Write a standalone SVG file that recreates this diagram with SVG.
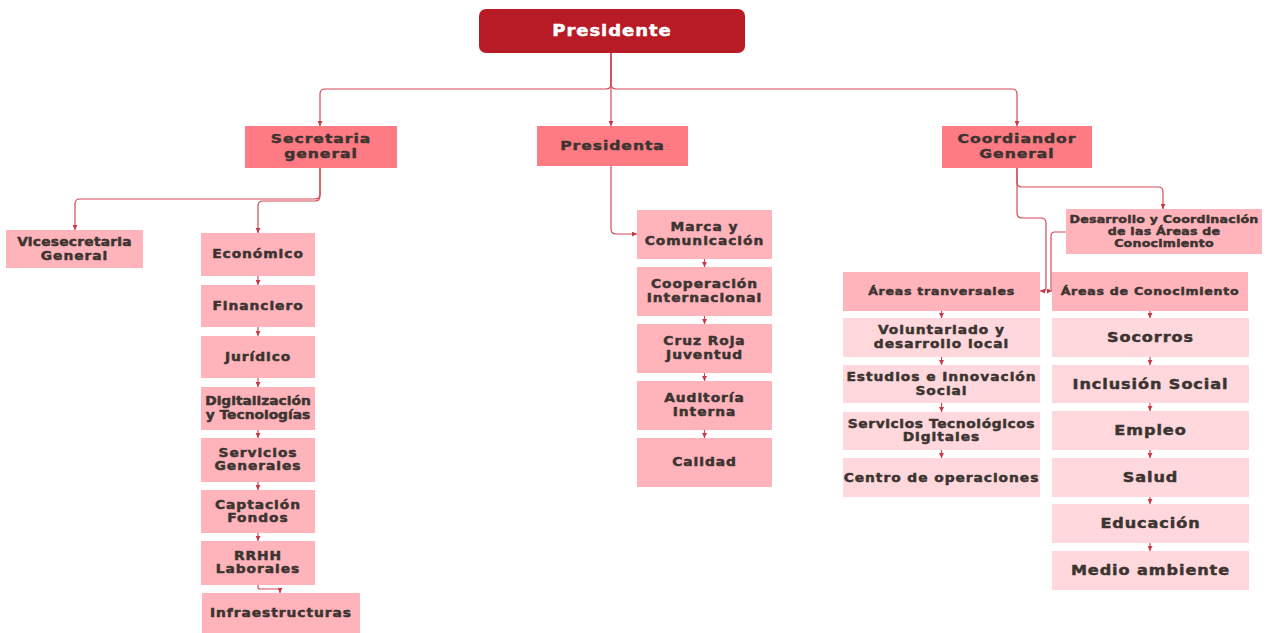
<svg xmlns="http://www.w3.org/2000/svg" width="1266" height="633" viewBox="0 0 1266 633">
  <defs>
    <marker id="arrow" viewBox="0 0 6 6" refX="6" refY="3" markerWidth="5" markerHeight="5" markerUnits="userSpaceOnUse" orient="auto">
      <path d="M0,0 L6,3 L0,6 z" fill="#c93847"/>
    </marker>
    <style>
      /* heavy, extended lettering: bold face widened around each line's own centre */
      text { font-family: "DejaVu Sans", "Liberation Sans", sans-serif; font-weight: bold; fill: #3b3430;
             stroke: #3b3430; stroke-width: 0.45px; stroke-linejoin: round;
             text-anchor: middle; letter-spacing: 0.8px;
             transform-box: fill-box; transform-origin: center; transform: scaleX(1.2); }
      .top { fill: #b81b25; }
      .top-t { fill: #ffffff; stroke: #ffffff; font-size: 15px; }
      .l2 { fill: #fe7b83; }
      .l2-t { font-size: 13px; }
      .leaf { fill: #ffb3bb; }
      .leaf-t { font-size: 11.5px; }
      .lite { fill: #ffd8dd; }
      .hdr-t { font-size: 10.5px; letter-spacing: 0.6px; }
      .dev-t { font-size: 10.5px; letter-spacing: 0.2px; }
      .big-t { font-size: 14px; transform: scaleX(1.15); }
      .edge { fill: none; stroke: #d24a57; stroke-width: 1.2; marker-end: url(#arrow); }
    </style>
  </defs>

  <rect width="1266" height="633" fill="#ffffff"/>

  <!-- connectors -->
  <g id="connectors">
    <path class="edge" d="M611,53 V84 Q611,89 606,89 H325 Q320,89 320,94 V126"/>
    <path class="edge" d="M611,53 V126"/>
    <path class="edge" d="M611,53 V84 Q611,89 616,89 H1012 Q1017,89 1017,94 V126"/>

    <path class="edge" d="M320,168 V194 Q320,199 315,199 H80 Q75,199 75,204 V230"/>
    <path class="edge" d="M320,168 V196 Q320,201 315,201 H263 Q258,201 258,206 V233"/>
    <path class="edge" d="M258,276 V285"/>
    <path class="edge" d="M258,327 V336"/>
    <path class="edge" d="M258,378 V387"/>
    <path class="edge" d="M258,430 V438"/>
    <path class="edge" d="M258,482 V490"/>
    <path class="edge" d="M258,533 V541"/>
    <path class="edge" d="M258,585 V587 Q258,589 260,589 H278 Q280,589 280,591 V593"/>

    <path class="edge" d="M611,166 V229 Q611,234 616,234 H637"/>
    <path class="edge" d="M704.5,259 V267"/>
    <path class="edge" d="M704.5,316 V324"/>
    <path class="edge" d="M704.5,373 V381"/>
    <path class="edge" d="M704.5,430 V438"/>

    <path class="edge" d="M1017,168 V182 Q1017,187 1022,187 H1158 Q1163,187 1163,192 V209"/>
    <path class="edge" d="M1017,168 V213 Q1017,218 1022,218 H1041 Q1046,218 1046,223 V288 Q1046,291 1043,291 H1040"/>
    <path class="edge" d="M1066,232 H1055 Q1051,232 1051,236 V288 Q1051,291 1052,291"/>
    <path class="edge" d="M941.5,311 V318"/>
    <path class="edge" d="M941.5,357 V365"/>
    <path class="edge" d="M941.5,403 V412"/>
    <path class="edge" d="M941.5,450 V458"/>
    <path class="edge" d="M1150,311 V318"/>
    <path class="edge" d="M1150,357 V365"/>
    <path class="edge" d="M1150,403 V411"/>
    <path class="edge" d="M1150,450 V458"/>
    <path class="edge" d="M1150,497 V504"/>
    <path class="edge" d="M1150,543 V551"/>
  </g>

  <!-- top -->
  <g id="presidente">
    <rect class="top" x="479" y="9" width="266" height="44" rx="7"/>
    <text class="top-t" x="612" y="36.5">Presidente</text>
  </g>

  <!-- second level -->
  <g id="secretaria-general">
    <rect class="l2" x="245" y="126" width="152" height="42"/>
    <text class="l2-t" x="321" y="143.5">Secretaria</text>
    <text class="l2-t" x="321" y="158">general</text>
  </g>
  <g id="presidenta">
    <rect class="l2" x="537" y="126" width="151" height="40"/>
    <text class="l2-t" x="612.5" y="150.5">Presidenta</text>
  </g>
  <g id="coordinador-general">
    <rect class="l2" x="942" y="126" width="150" height="42"/>
    <text class="l2-t" x="1017" y="143.5">Coordiandor</text>
    <text class="l2-t" x="1017" y="158">General</text>
  </g>

  <!-- secretaria branch -->
  <g id="vicesecretaria">
    <rect class="leaf" x="6" y="230" width="137" height="38"/>
    <text class="leaf-t" x="74.5" y="246" style="letter-spacing:0.2px">Vicesecretaria</text>
    <text class="leaf-t" x="74.5" y="260">General</text>
  </g>
  <g id="economico">
    <rect class="leaf" x="201" y="233" width="114" height="43"/>
    <text class="leaf-t" x="258" y="258.5">Económico</text>
  </g>
  <g id="financiero">
    <rect class="leaf" x="201" y="285" width="114" height="42"/>
    <text class="leaf-t" x="258" y="310">Financiero</text>
  </g>
  <g id="juridico">
    <rect class="leaf" x="201" y="336" width="114" height="42"/>
    <text class="leaf-t" x="258" y="361">Jurídico</text>
  </g>
  <g id="digitalizacion">
    <rect class="leaf" x="201" y="387" width="114" height="43"/>
    <text class="leaf-t" x="258" y="405" style="letter-spacing:0px">Digitalización</text>
    <text class="leaf-t" x="258" y="419" style="letter-spacing:0px">y Tecnologías</text>
  </g>
  <g id="servicios-generales">
    <rect class="leaf" x="201" y="438" width="114" height="44"/>
    <text class="leaf-t" x="258" y="457">Servicios</text>
    <text class="leaf-t" x="258" y="470">Generales</text>
  </g>
  <g id="captacion-fondos">
    <rect class="leaf" x="201" y="490" width="114" height="43"/>
    <text class="leaf-t" x="258" y="509">Captación</text>
    <text class="leaf-t" x="258" y="522">Fondos</text>
  </g>
  <g id="rrhh">
    <rect class="leaf" x="201" y="541" width="114" height="44"/>
    <text class="leaf-t" x="258" y="560">RRHH</text>
    <text class="leaf-t" x="258" y="573">Laborales</text>
  </g>
  <g id="infraestructuras">
    <rect class="leaf" x="202" y="593" width="158" height="40"/>
    <text class="leaf-t" x="281" y="617">Infraestructuras</text>
  </g>

  <!-- presidenta branch -->
  <g id="marca">
    <rect class="leaf" x="637" y="210" width="135" height="49"/>
    <text class="leaf-t" x="704.5" y="231">Marca y</text>
    <text class="leaf-t" x="704.5" y="245">Comunicación</text>
  </g>
  <g id="cooperacion">
    <rect class="leaf" x="637" y="267" width="135" height="49"/>
    <text class="leaf-t" x="704.5" y="288">Cooperación</text>
    <text class="leaf-t" x="704.5" y="302">Internacional</text>
  </g>
  <g id="cruz-roja-juventud">
    <rect class="leaf" x="637" y="324" width="135" height="49"/>
    <text class="leaf-t" x="704.5" y="345">Cruz Roja</text>
    <text class="leaf-t" x="704.5" y="359">Juventud</text>
  </g>
  <g id="auditoria">
    <rect class="leaf" x="637" y="381" width="135" height="49"/>
    <text class="leaf-t" x="704.5" y="402">Auditoría</text>
    <text class="leaf-t" x="704.5" y="416">Interna</text>
  </g>
  <g id="calidad">
    <rect class="leaf" x="637" y="438" width="135" height="49"/>
    <text class="leaf-t" x="704.5" y="466">Calidad</text>
  </g>

  <!-- coordinador branch -->
  <g id="desarrollo">
    <rect class="leaf" x="1066" y="209" width="196" height="45"/>
    <text class="dev-t" x="1164" y="223">Desarrollo y Coordinación</text>
    <text class="dev-t" x="1164" y="235">de las Áreas de</text>
    <text class="dev-t" x="1164" y="247">Conocimiento</text>
  </g>
  <g id="areas-transversales">
    <rect class="leaf" x="843" y="272" width="197" height="39"/>
    <text class="hdr-t" x="941.5" y="295">Áreas tranversales</text>
  </g>
  <g id="voluntariado">
    <rect class="lite" x="843" y="318" width="197" height="39"/>
    <text class="leaf-t" x="941.5" y="334">Voluntariado y</text>
    <text class="leaf-t" x="941.5" y="348">desarrollo local</text>
  </g>
  <g id="estudios">
    <rect class="lite" x="843" y="365" width="197" height="38"/>
    <text class="leaf-t" x="941.5" y="381">Estudios e Innovación</text>
    <text class="leaf-t" x="941.5" y="395">Social</text>
  </g>
  <g id="servicios-tecnologicos">
    <rect class="lite" x="843" y="412" width="197" height="38"/>
    <text class="leaf-t" x="941.5" y="428" style="letter-spacing:0.5px">Servicios Tecnológicos</text>
    <text class="leaf-t" x="941.5" y="441">Digitales</text>
  </g>
  <g id="centro-operaciones">
    <rect class="lite" x="843" y="458" width="197" height="39"/>
    <text class="leaf-t" x="941.5" y="482">Centro de operaciones</text>
  </g>

  <g id="areas-conocimiento">
    <rect class="leaf" x="1052" y="272" width="196" height="39"/>
    <text class="hdr-t" x="1150" y="295">Áreas de Conocimiento</text>
  </g>
  <g id="socorros">
    <rect class="lite" x="1052" y="318" width="197" height="39"/>
    <text class="big-t" x="1150.5" y="342">Socorros</text>
  </g>
  <g id="inclusion-social">
    <rect class="lite" x="1052" y="365" width="197" height="38"/>
    <text class="big-t" x="1150.5" y="389">Inclusión Social</text>
  </g>
  <g id="empleo">
    <rect class="lite" x="1052" y="411" width="197" height="39"/>
    <text class="big-t" x="1150.5" y="435">Empleo</text>
  </g>
  <g id="salud">
    <rect class="lite" x="1052" y="458" width="197" height="39"/>
    <text class="big-t" x="1150.5" y="482">Salud</text>
  </g>
  <g id="educacion">
    <rect class="lite" x="1052" y="504" width="197" height="39"/>
    <text class="big-t" x="1150.5" y="528">Educación</text>
  </g>
  <g id="medio-ambiente">
    <rect class="lite" x="1052" y="551" width="197" height="39"/>
    <text class="big-t" x="1150.5" y="575">Medio ambiente</text>
  </g>
</svg>
